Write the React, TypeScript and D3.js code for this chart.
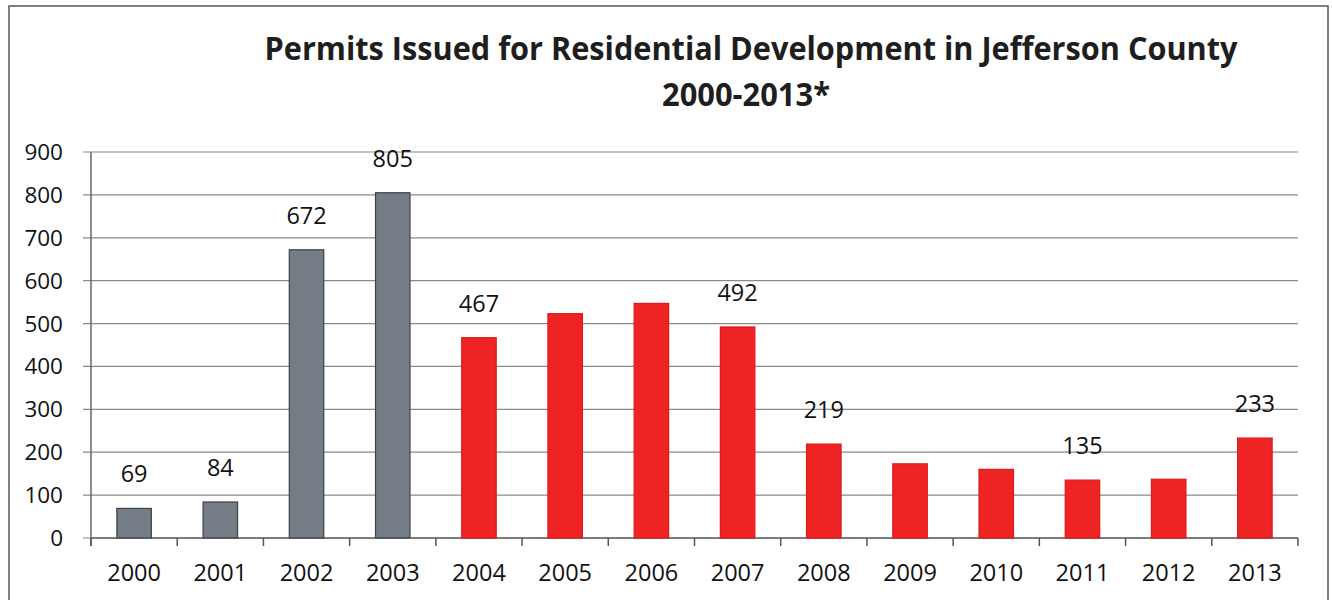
import React from "react";
import * as d3 from "d3";

const years = ["2000","2001","2002","2003","2004","2005","2006","2007","2008","2009","2010","2011","2012","2013"];
const permits = [69, 84, 672, 805, 467, 523, 547, 492, 219, 173, 160, 135, 137, 233];
const labeledYears = ["2000","2001","2002","2003","2004","2007","2008","2011","2013"];
const grayYears = ["2000","2001","2002","2003"];
const yTicks = [0, 100, 200, 300, 400, 500, 600, 700, 800, 900];
const titleLines = ["Permits Issued for Residential Development in Jefferson County", "2000-2013*"];

const W = 1332, H = 600;
const left = 91, right = 1298, top = 152, bottom = 538;
const FONT = "'Open Sans', 'DejaVu Sans', sans-serif";

export default function App() {
  const x = d3.scaleBand<string>().domain(years).range([left, right]).paddingInner(0.6).paddingOuter(0.3);
  const y = d3.scaleLinear().domain([0, 900]).range([bottom, top]);
  const slot = d3.scaleBand<string>().domain(years).range([left, right]).padding(0);
  const boundaries = d3.range(years.length + 1).map(i => left + i * slot.step());

  return (
    <svg width={W} height={H} style={{ position: "absolute", left: 0, top: 0, background: "#fff" }}>
      <rect x={9} y={6} width={1319} height={620} fill="#fff" stroke="#555" strokeWidth={1.5} />
      <text x={751} y={60} textAnchor="middle" fontFamily={FONT} fontWeight={700} fontSize={32} fill="#1e1e1e"
        textLength={973} lengthAdjust="spacingAndGlyphs">{titleLines[0]}</text>
      <text x={746} y={106} textAnchor="middle" fontFamily={FONT} fontWeight={700} fontSize={32} fill="#1e1e1e"
        textLength={168} lengthAdjust="spacingAndGlyphs">{titleLines[1]}</text>

      {yTicks.map(t => (
        <g key={t}>
          <line x1={left - 8} x2={right} y1={y(t)} y2={y(t)} stroke="#8a8a8a" strokeWidth={1.2} />
          <text x={63} y={y(t) + 8} textAnchor="end" fontFamily={FONT} fontSize={22.5} fill="#111">{t}</text>
        </g>
      ))}
      <line x1={left} x2={left} y1={top} y2={bottom + 8} stroke="#666" strokeWidth={1.5} />
      <line x1={left} x2={right} y1={bottom} y2={bottom} stroke="#666" strokeWidth={1.5} />
      {boundaries.map((b, i) => (
        <line key={i} x1={b} x2={b} y1={bottom} y2={bottom + 8} stroke="#555" strokeWidth={1.5} />
      ))}

      {years.map((yr, i) => {
        const gray = grayYears.includes(yr);
        return (
          <rect key={yr} x={x(yr)} y={y(permits[i])} width={x.bandwidth()} height={bottom - y(permits[i])}
            fill={gray ? "#747c86" : "#ee2424"} stroke={gray ? "#3f4246" : "#e01818"} strokeWidth={1.2} />
        );
      })}

      {years.map((yr, i) => labeledYears.includes(yr) ? (
        <text key={"l" + yr} x={(x(yr) as number) + x.bandwidth() / 2} y={y(permits[i]) - 26}
          textAnchor="middle" fontFamily={FONT} fontSize={23.5} fill="#111">{permits[i]}</text>
      ) : null)}

      {years.map(yr => (
        <text key={"x" + yr} x={(x(yr) as number) + x.bandwidth() / 2} y={581}
          textAnchor="middle" fontFamily={FONT} fontSize={23.5} fill="#111">{yr}</text>
      ))}
    </svg>
  );
}
